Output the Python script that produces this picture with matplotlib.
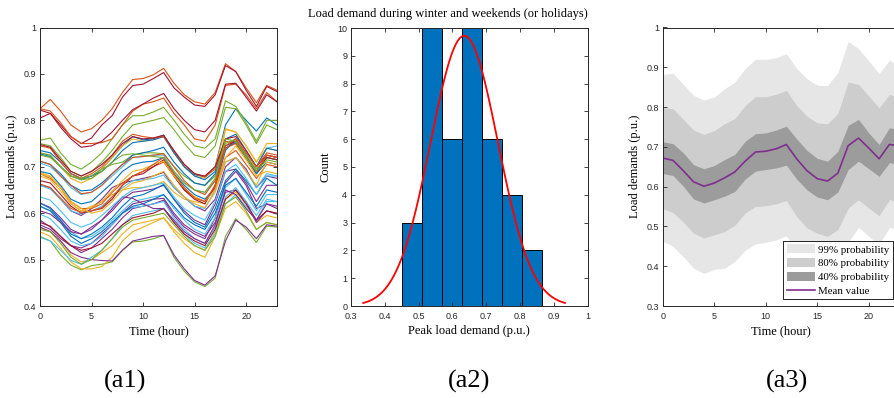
import numpy as np
import matplotlib
matplotlib.use("Agg")
import matplotlib.pyplot as plt
from matplotlib.patches import Patch
from matplotlib.lines import Line2D

# ---------------- data ----------------
hours = list(range(24))

load_profiles = [
    [0.735,0.73,0.71,0.685,0.675,0.68,0.695,0.72,0.745,0.765,0.758,0.76,0.768,0.73,0.70,0.683,0.678,0.70,0.79,0.825,0.80,0.777,0.805,0.79],
    [0.825,0.845,0.82,0.79,0.775,0.782,0.80,0.825,0.86,0.888,0.89,0.898,0.912,0.88,0.855,0.84,0.835,0.86,0.922,0.905,0.87,0.838,0.875,0.865],
    [0.688,0.68,0.655,0.62,0.605,0.615,0.625,0.64,0.65,0.655,0.655,0.66,0.668,0.645,0.63,0.625,0.62,0.66,0.78,0.775,0.745,0.71,0.74,0.735],
    [0.622,0.612,0.59,0.565,0.555,0.57,0.585,0.605,0.63,0.645,0.648,0.652,0.66,0.63,0.605,0.585,0.575,0.62,0.69,0.695,0.665,0.625,0.66,0.66],
    [0.757,0.762,0.73,0.705,0.695,0.71,0.73,0.76,0.79,0.81,0.81,0.818,0.828,0.80,0.77,0.745,0.74,0.76,0.842,0.83,0.795,0.755,0.80,0.80],
    [0.708,0.70,0.68,0.655,0.64,0.645,0.66,0.68,0.70,0.72,0.722,0.725,0.725,0.69,0.665,0.65,0.645,0.67,0.74,0.755,0.73,0.70,0.74,0.745],
    [0.822,0.815,0.79,0.765,0.75,0.762,0.79,0.81,0.85,0.875,0.878,0.89,0.903,0.87,0.85,0.833,0.83,0.855,0.918,0.905,0.865,0.83,0.873,0.862],
    [0.69,0.685,0.66,0.63,0.62,0.625,0.645,0.665,0.69,0.705,0.71,0.712,0.72,0.685,0.66,0.64,0.63,0.655,0.735,0.76,0.725,0.69,0.72,0.715],
    [0.825,0.82,0.795,0.765,0.75,0.75,0.752,0.76,0.79,0.82,0.835,0.84,0.848,0.815,0.79,0.76,0.755,0.79,0.875,0.878,0.855,0.825,0.86,0.84],
    [0.73,0.725,0.70,0.675,0.665,0.675,0.695,0.72,0.745,0.76,0.755,0.758,0.765,0.73,0.70,0.68,0.675,0.70,0.782,0.775,0.745,0.71,0.75,0.75],
    [0.585,0.57,0.55,0.53,0.515,0.525,0.545,0.565,0.59,0.61,0.615,0.62,0.628,0.595,0.57,0.555,0.545,0.59,0.665,0.69,0.66,0.61,0.62,0.61],
    [0.75,0.745,0.72,0.69,0.68,0.69,0.71,0.735,0.765,0.79,0.795,0.80,0.806,0.78,0.75,0.725,0.72,0.745,0.828,0.825,0.79,0.75,0.79,0.78],
    [0.615,0.605,0.585,0.56,0.545,0.55,0.565,0.585,0.605,0.625,0.63,0.635,0.64,0.61,0.585,0.565,0.555,0.59,0.655,0.675,0.64,0.605,0.64,0.64],
    [0.805,0.815,0.785,0.76,0.742,0.745,0.755,0.775,0.80,0.823,0.835,0.848,0.858,0.825,0.80,0.78,0.775,0.80,0.878,0.88,0.85,0.82,0.855,0.84],
    [0.728,0.722,0.70,0.68,0.672,0.68,0.69,0.71,0.735,0.752,0.755,0.758,0.765,0.73,0.70,0.68,0.672,0.69,0.76,0.77,0.735,0.70,0.74,0.735],
    [0.745,0.74,0.71,0.685,0.675,0.685,0.70,0.725,0.755,0.77,0.765,0.762,0.765,0.735,0.705,0.685,0.678,0.695,0.755,0.75,0.72,0.69,0.725,0.72],
    [0.57,0.56,0.54,0.51,0.495,0.50,0.515,0.53,0.555,0.575,0.58,0.585,0.59,0.565,0.545,0.53,0.52,0.56,0.63,0.645,0.62,0.58,0.595,0.59],
    [0.66,0.655,0.63,0.605,0.595,0.61,0.63,0.655,0.665,0.67,0.675,0.68,0.688,0.655,0.635,0.615,0.605,0.63,0.70,0.72,0.695,0.655,0.68,0.675],
    [0.55,0.54,0.51,0.488,0.478,0.487,0.49,0.495,0.52,0.538,0.54,0.545,0.552,0.505,0.475,0.452,0.442,0.46,0.55,0.588,0.565,0.537,0.572,0.57],
    [0.66,0.652,0.63,0.605,0.598,0.605,0.615,0.635,0.655,0.67,0.672,0.675,0.682,0.655,0.635,0.615,0.61,0.65,0.71,0.72,0.69,0.655,0.685,0.68],
    [0.748,0.742,0.715,0.69,0.68,0.69,0.705,0.725,0.75,0.765,0.76,0.762,0.768,0.735,0.705,0.685,0.68,0.70,0.76,0.765,0.735,0.70,0.725,0.72],
    [0.622,0.61,0.585,0.555,0.545,0.555,0.57,0.59,0.615,0.635,0.64,0.65,0.662,0.63,0.60,0.58,0.57,0.61,0.67,0.695,0.67,0.64,0.675,0.66],
    [0.685,0.675,0.655,0.625,0.61,0.61,0.62,0.645,0.665,0.68,0.69,0.70,0.71,0.68,0.65,0.635,0.625,0.655,0.72,0.735,0.705,0.675,0.705,0.70],
    [0.56,0.55,0.525,0.495,0.48,0.48,0.485,0.505,0.54,0.56,0.57,0.58,0.59,0.56,0.535,0.515,0.505,0.55,0.61,0.625,0.60,0.565,0.58,0.575],
    [0.57,0.56,0.54,0.515,0.505,0.50,0.498,0.497,0.52,0.54,0.545,0.55,0.552,0.51,0.48,0.455,0.445,0.465,0.54,0.585,0.57,0.545,0.575,0.572],
    [0.73,0.725,0.70,0.68,0.675,0.68,0.695,0.705,0.71,0.725,0.73,0.73,0.728,0.70,0.68,0.665,0.66,0.68,0.75,0.76,0.725,0.695,0.72,0.715],
    [0.548,0.54,0.52,0.498,0.49,0.505,0.52,0.545,0.575,0.595,0.60,0.605,0.61,0.58,0.555,0.535,0.525,0.555,0.62,0.64,0.615,0.585,0.625,0.625],
    [0.67,0.665,0.64,0.615,0.60,0.605,0.61,0.63,0.66,0.68,0.685,0.70,0.715,0.68,0.65,0.63,0.62,0.66,0.745,0.755,0.72,0.685,0.72,0.715],
    [0.712,0.705,0.685,0.66,0.648,0.65,0.665,0.685,0.705,0.725,0.73,0.735,0.742,0.71,0.685,0.665,0.66,0.685,0.74,0.752,0.72,0.685,0.71,0.705],
    [0.712,0.705,0.68,0.66,0.642,0.645,0.66,0.685,0.705,0.72,0.722,0.725,0.728,0.70,0.67,0.65,0.64,0.67,0.745,0.76,0.73,0.70,0.73,0.725],
    [0.68,0.672,0.648,0.62,0.605,0.612,0.625,0.648,0.67,0.69,0.695,0.705,0.712,0.68,0.655,0.635,0.625,0.65,0.72,0.745,0.715,0.68,0.69,0.685],
    [0.575,0.565,0.545,0.53,0.525,0.535,0.555,0.575,0.60,0.62,0.625,0.63,0.632,0.60,0.575,0.56,0.55,0.58,0.645,0.65,0.625,0.58,0.605,0.598],
    [0.565,0.56,0.535,0.505,0.49,0.50,0.52,0.545,0.57,0.585,0.59,0.595,0.60,0.575,0.55,0.53,0.52,0.55,0.62,0.635,0.605,0.565,0.58,0.575],
    [0.598,0.588,0.565,0.54,0.53,0.535,0.55,0.575,0.60,0.612,0.615,0.62,0.625,0.59,0.565,0.545,0.535,0.57,0.635,0.655,0.625,0.595,0.63,0.625],
    [0.58,0.572,0.55,0.53,0.52,0.525,0.535,0.555,0.575,0.59,0.595,0.60,0.61,0.58,0.555,0.54,0.53,0.565,0.63,0.65,0.62,0.585,0.605,0.60],
    [0.615,0.605,0.58,0.55,0.535,0.545,0.56,0.58,0.60,0.615,0.62,0.63,0.64,0.615,0.59,0.575,0.565,0.60,0.66,0.675,0.645,0.615,0.65,0.645],
    [0.663,0.655,0.632,0.61,0.602,0.605,0.612,0.635,0.66,0.68,0.69,0.705,0.72,0.685,0.655,0.632,0.625,0.66,0.74,0.75,0.72,0.69,0.725,0.72],
    [0.685,0.678,0.655,0.625,0.61,0.60,0.605,0.625,0.65,0.665,0.67,0.68,0.69,0.66,0.635,0.62,0.612,0.645,0.71,0.72,0.69,0.66,0.71,0.705],
    [0.605,0.598,0.58,0.56,0.555,0.565,0.585,0.61,0.635,0.632,0.62,0.61,0.61,0.585,0.56,0.545,0.535,0.575,0.65,0.64,0.61,0.585,0.62,0.615],
    [0.725,0.72,0.70,0.68,0.672,0.675,0.69,0.71,0.725,0.728,0.725,0.722,0.72,0.69,0.665,0.65,0.645,0.675,0.76,0.755,0.72,0.69,0.715,0.71],
    [0.635,0.628,0.605,0.58,0.57,0.578,0.595,0.615,0.635,0.65,0.655,0.66,0.665,0.635,0.61,0.595,0.585,0.625,0.69,0.705,0.675,0.64,0.68,0.68],
]

# histogram of peak load demand
hist_edges = [0.450, 0.509, 0.568, 0.627, 0.686, 0.745, 0.804, 0.863]
hist_counts = [3, 10, 6, 10, 6, 4, 2]
fit_mean = 0.635
fit_sigma = 0.0993
fit_range = [0.337, 0.932]

# probabilistic bands
mean_value = [0.672,0.666,0.640,0.612,0.601,0.609,0.622,0.637,0.664,0.687,0.689,0.695,0.706,0.670,0.640,0.620,0.614,0.634,0.703,0.722,0.697,0.670,0.706,0.703]
p40_upper = [0.713,0.708,0.685,0.655,0.645,0.653,0.668,0.681,0.714,0.733,0.735,0.742,0.752,0.720,0.691,0.671,0.664,0.689,0.754,0.769,0.735,0.706,0.748,0.744]
p40_lower = [0.633,0.628,0.601,0.569,0.559,0.567,0.576,0.588,0.619,0.639,0.643,0.647,0.654,0.619,0.592,0.574,0.567,0.587,0.643,0.664,0.645,0.626,0.660,0.658]
p80_upper = [0.798,0.796,0.769,0.742,0.731,0.741,0.758,0.771,0.804,0.826,0.826,0.832,0.842,0.804,0.777,0.760,0.758,0.784,0.863,0.857,0.828,0.798,0.832,0.824]
p80_lower = [0.545,0.535,0.511,0.483,0.471,0.479,0.487,0.503,0.534,0.550,0.552,0.557,0.565,0.525,0.496,0.483,0.475,0.492,0.546,0.567,0.546,0.527,0.567,0.563]
p99_upper = [0.882,0.885,0.857,0.829,0.818,0.825,0.846,0.863,0.897,0.920,0.920,0.924,0.934,0.897,0.871,0.855,0.854,0.887,0.965,0.947,0.916,0.884,0.918,0.903]
p99_lower = [0.463,0.450,0.424,0.395,0.382,0.392,0.395,0.412,0.440,0.456,0.460,0.466,0.476,0.440,0.410,0.395,0.390,0.400,0.460,0.498,0.475,0.455,0.497,0.495]

legend_labels = ["99% probability", "80% probability", "40% probability", "Mean value"]
panel_labels = ["(a1)", "(a2)", "(a3)"]

# ---------------- style ----------------
matlab_colors = ["#0072BD", "#D95319", "#EDB120", "#7E2F8E", "#77AC30", "#4DBEEE", "#A2142F"]
serif = ["Liberation Serif", "DejaVu Serif"]
sans = ["Liberation Sans", "DejaVu Sans"]
axis_col = "#262626"

W, H = 894, 398
fig = plt.figure(figsize=(W / 100, H / 100), dpi=100)

def px_axes(left, top, right, bottom):
    return fig.add_axes([left / W, (H - bottom) / H, (right - left) / W, (bottom - top) / H])

def style(ax):
    ax.tick_params(direction="in", length=3, width=0.6, top=True, right=True,
                   labelsize=6.5, colors=axis_col)
    ax.tick_params(axis="x", pad=4.5)
    ax.tick_params(axis="y", pad=2.5)
    for lab in ax.get_xticklabels() + ax.get_yticklabels():
        lab.set_family(sans)
    for s in ax.spines.values():
        s.set_linewidth(0.7)
        s.set_color(axis_col)

# ---------------- (a1) ----------------
ax1 = px_axes(40, 27.5, 277, 306)
for i, prof in enumerate(load_profiles):
    ax1.plot(hours, prof, color=matlab_colors[i % 7], lw=0.8)
ax1.set_xlim(0, 23)
ax1.set_ylim(0.4, 1.0)
ax1.set_xticks([0, 5, 10, 15, 20])
ax1.set_yticks([0.4, 0.5, 0.6, 0.7, 0.8, 0.9, 1.0])
ax1.set_yticklabels(["0.4", "0.5", "0.6", "0.7", "0.8", "0.9", "1"])
style(ax1)
ax1.set_xlabel("Time (hour)", family=serif, fontsize=9, labelpad=3)
ax1.set_ylabel("Load demands (p.u.)", family=serif, fontsize=9, labelpad=4)

# ---------------- (a2) ----------------
ax2 = px_axes(350.7, 28, 588, 306)
widths = np.diff(hist_edges)
ax2.bar(hist_edges[:-1], hist_counts, width=widths, align="edge",
        color="#0072BD", edgecolor="black", linewidth=0.7)
xs = np.linspace(fit_range[0], fit_range[1], 200)
scale = sum(hist_counts) * np.mean(widths)
ys = scale / (fit_sigma * np.sqrt(2 * np.pi)) * np.exp(-0.5 * ((xs - fit_mean) / fit_sigma) ** 2)
ax2.plot(xs, ys, color="red", lw=1.3)
ax2.set_xlim(0.3, 1.0)
ax2.set_ylim(0, 10)
ax2.set_xticks([0.3, 0.4, 0.5, 0.6, 0.7, 0.8, 0.9, 1.0])
ax2.set_xticklabels(["0.3", "0.4", "0.5", "0.6", "0.7", "0.8", "0.9", "1"])
ax2.set_yticks(range(0, 11))
style(ax2)
ax2.set_xlabel("Peak load demand (p.u.)", family=serif, fontsize=9, labelpad=3)
ax2.set_ylabel("Count", family=serif, fontsize=9, labelpad=4)
ax2.text(448 / W, (H - 14) / H, "Load demand during winter and weekends (or holidays)",
         transform=fig.transFigure, family=serif, fontsize=9, ha="center", va="center")

# ---------------- (a3) ----------------
ax3 = px_axes(662.7, 27.5, 899.7, 306)
c99, c80, c40 = "#e6e6e6", "#cdcdcd", "#9c9c9c"
ax3.fill_between(hours, p99_lower, p99_upper, color=c99, lw=0)
ax3.fill_between(hours, p80_lower, p80_upper, color=c80, lw=0)
ax3.fill_between(hours, p40_lower, p40_upper, color=c40, lw=0)
ax3.plot(hours, mean_value, color="#7E2F8E", lw=1.2)
ax3.set_xlim(0, 23)
ax3.set_ylim(0.3, 1.0)
ax3.set_xticks([0, 5, 10, 15, 20])
ax3.set_yticks([0.3, 0.4, 0.5, 0.6, 0.7, 0.8, 0.9, 1.0])
ax3.set_yticklabels(["0.3", "0.4", "0.5", "0.6", "0.7", "0.8", "0.9", "1"])
style(ax3)
ax3.set_xlabel("Time (hour)", family=serif, fontsize=9, labelpad=3)
ax3.set_ylabel("Load demands (p.u.)", family=serif, fontsize=9, labelpad=4)

handles = [Patch(facecolor=c99, edgecolor="none"), Patch(facecolor=c80, edgecolor="none"),
           Patch(facecolor=c40, edgecolor="none"), Line2D([], [], color="#7E2F8E", lw=1.2)]
leg = ax3.legend(handles, legend_labels, loc="lower right",
                 bbox_to_anchor=(893 / W, (H - 299) / H), bbox_transform=fig.transFigure,
                 prop={"family": serif, "size": 7.8}, frameon=True, fancybox=False,
                 borderpad=0.3, labelspacing=0.32, handlelength=2.6, handleheight=0.9,
                 handletextpad=0.35, borderaxespad=0)
leg.get_frame().set_edgecolor("black")
leg.get_frame().set_linewidth(0.6)
leg.get_frame().set_alpha(1)

# panel labels
for x, lab in zip([125, 469, 787], panel_labels):
    fig.text(x / W, (H - 381) / H, lab, family=serif, fontsize=19, ha="center", va="center")

fig.savefig("out.png", dpi=100)
